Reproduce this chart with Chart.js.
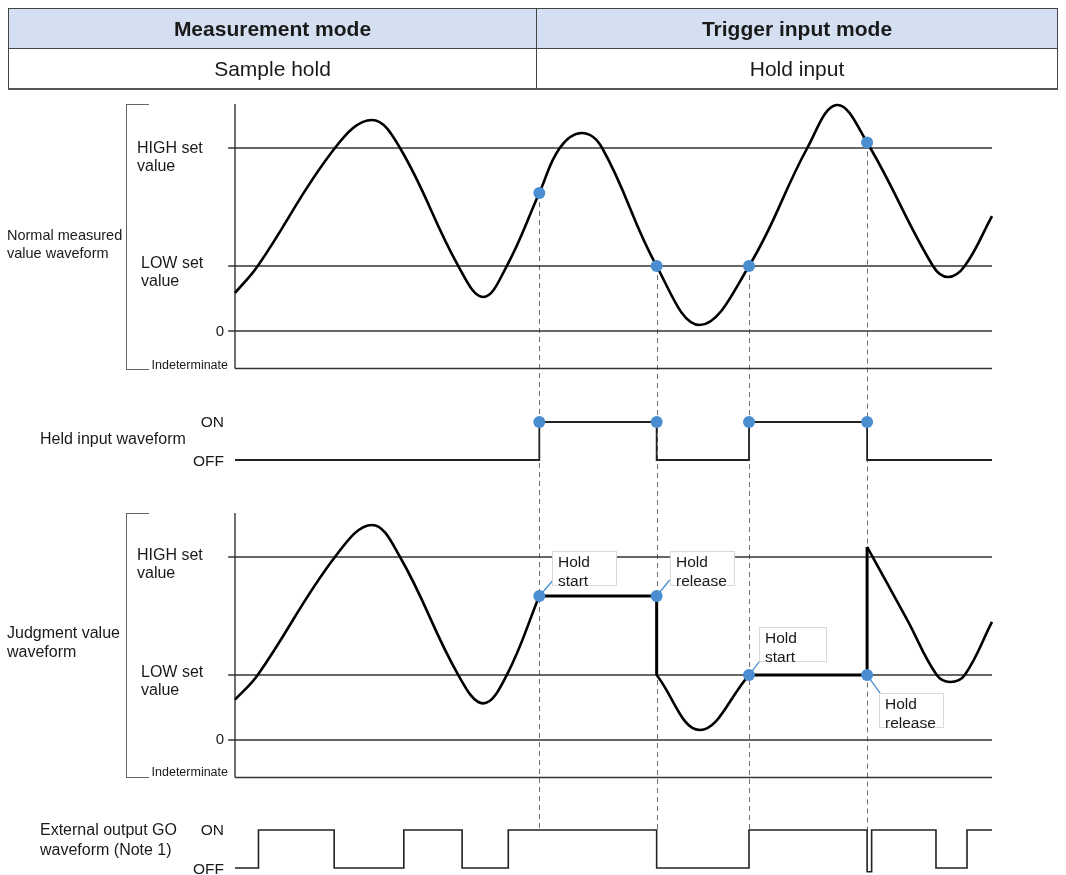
<!DOCTYPE html>
<html>
<head>
<meta charset="utf-8">
<title>Sample hold / Hold input timing</title>
<script src="https://cdn.jsdelivr.net/npm/chart.js@4.4.1/dist/chart.umd.min.js"></script>
<style>
  html, body { margin: 0; padding: 0; background: #fff; }
  body {
    width: 1066px; height: 875px; position: relative; overflow: hidden;
    font-family: "Liberation Sans", Arial, sans-serif; color: #1a1a1a;
  }
  #timing { position: absolute; left: 0; top: 0; }
  table.mode {
    position: absolute; left: 8px; top: 8px; width: 1050px;
    border-collapse: collapse; font-size: 21px; table-layout: fixed;
  }
  table.mode th, table.mode td {
    border: 1px solid #444; height: 39px; padding: 0; text-align: center;
  }
  table.mode th { background: #d4e0f1; font-weight: bold; }
  table.mode td { border-bottom: 2px solid #555; }
  table.mode col.c1 { width: 528px; }
  .lbl { position: absolute; white-space: nowrap; font-size: 16px; line-height: 18px; }
  .r { text-align: right; }
  .small { font-size: 12.5px; line-height: 15px; }
  .bracket {
    position: absolute; left: 126px; width: 22px;
    border: 1.2px solid #666; border-right: none;
  }
  .note {
    position: absolute; box-sizing: border-box; background: #fff;
    border: 1px solid #d9d9d9; padding: 0 0 0 5px;
    font-size: 15.5px; line-height: 19px; height: 35px;
  }
</style>
</head>
<body>
<canvas id="timing" width="1066" height="875"></canvas>

<table class="mode">
  <colgroup><col class="c1"><col></colgroup>
  <tr><th>Measurement mode</th><th>Trigger input mode</th></tr>
  <tr><td>Sample hold</td><td>Hold input</td></tr>
</table>

<div class="bracket" style="top:104px;height:264px"></div>
<div class="bracket" style="top:513px;height:263px"></div>

<div class="lbl" style="left:7px;top:226px;font-size:14.5px">Normal measured<br>value waveform</div>
<div class="lbl" style="left:137px;top:139px">HIGH set<br>value</div>
<div class="lbl" style="left:141px;top:254px">LOW set<br>value</div>
<div class="lbl r" style="right:842px;top:322px;font-size:15px">0</div>
<div class="lbl r small" style="right:838px;top:358px">Indeterminate</div>

<div class="lbl" style="left:40px;top:430px">Held input waveform</div>
<div class="lbl r" style="right:842px;top:413px;font-size:15.5px">ON</div>
<div class="lbl r" style="right:842px;top:452px;font-size:15.5px">OFF</div>

<div class="lbl" style="left:7px;top:623px;line-height:19px">Judgment value<br>waveform</div>
<div class="lbl" style="left:137px;top:546px">HIGH set<br>value</div>
<div class="lbl" style="left:141px;top:663px">LOW set<br>value</div>
<div class="lbl r" style="right:842px;top:730px;font-size:15px">0</div>
<div class="lbl r small" style="right:838px;top:765px">Indeterminate</div>

<div class="lbl" style="left:40px;top:820px;line-height:20px">External output GO<br>waveform (Note 1)</div>
<div class="lbl r" style="right:842px;top:821px;font-size:15.5px">ON</div>
<div class="lbl r" style="right:842px;top:860px;font-size:15.5px">OFF</div>

<script>
const W = 1066, H = 875;
const PLOT_LEFT = 235, PLOT_RIGHT = 992;

// value levels (HIGH set value = 100)
const HIGH = 100, LOW = 35.5, ZERO = 0, INDET = -20.5, AXIS_TOP = 124;

// normal measured value waveform
const measTime  = [0, 3.0, 13.2, 18.1, 21.8, 29.5, 32.8, 35.9, 40.2, 42.9, 45.8, 48.5, 55.7, 61.4, 67.9, 75.6, 79.5, 83.5, 92.2, 94.2, 96.4, 100];
const measValue = [20.8, 35.5, 100, 115.3, 100, 35.5, 18.6, 35.5, 75.4, 100, 108.2, 100, 35.5, 3.3, 35.5, 100, 123.5, 103, 35.5, 29.5, 35.5, 62.8];

// judgment value waveform (null = held, drawn separately)
const judgeTime  = [0, 3.0, 13.2, 18.1, 21.8, 29.5, 32.8, 35.9, 40.2, 48, 55.7, 61.4, 67.9, 75, 83.5, 88.8, 92.7, 94.5, 96.4, 100];
const judgeValue = [22, 35.5, 100, 117.5, 100, 35.5, 20, 35.5, 78.7, null, 35.5, 5.5, 35.5, null, 105.5, 65.6, 35.5, 31.7, 35.5, 64.5];

// hold periods
const holdStart = [40.2, 67.9];
const holdEnd = [55.7, 83.5];
const holdLevel = [78.7, 35.5];
const releaseValue = [35.5, 105.5];

// held input (0 = OFF, 1 = ON)
const heldTime  = [0, 40.2, 55.7, 67.9, 83.5, 100];
const heldState = [0, 1, 0, 1, 0, 0];

// external output GO
const goTime  = [0, 3.1, 13.1, 22.3, 30.0, 36.1, 55.7, 67.9, 83.5, 84.1, 92.6, 96.7, 100];
const goState = [0, 1, 0, 1, 0, 1, 0, 1, -0.1, 1, 0, 1, 1];

// hold input edges
const eventTime = [40.2, 55.7, 67.9, 83.5];
const eventMeasured = [75.4, 35.5, 35.5, 103];
const eventJudged = [78.7, 78.7, 35.5, 35.5];
const eventLabel = ["Hold<br>start", "Hold<br>release", "Hold<br>start", "Hold<br>release"];

// callout placement relative to the judged point (px)
const noteBox = [[13, -45, 65], [13, -45, 65], [10, -48, 68], [12, 18, 65]];
const noteLead = [[14, -16], [13, -16], [13, -17], [13, 18]];

const BLUE = "#4a8dd0";

// each panel gets its own y axis spanning the full canvas
function bandRange(v0, px0, v1, px1) {
  const k = (px0 - px1) / (v1 - v0);
  return { min: v0 - (H - px0) / k, max: v1 + px1 / k };
}
const r1 = bandRange(ZERO, 331, HIGH, 148);
const r2 = bandRange(0, 460, 1, 422);
const r3 = bandRange(ZERO, 740, HIGH, 557);
const r4 = bandRange(0, 868, 1, 830);

const pts = (xs, ys) => xs.map((x, i) => ({ x: x, y: ys[i] }));

function line(data, axis, extra) {
  return Object.assign({
    type: "line", data: data, yAxisID: axis,
    borderColor: "#000", borderWidth: 2.6, pointRadius: 0,
    tension: 0, fill: false, clip: false, order: 2
  }, extra || {});
}
function refLine(v, axis, from) {
  return line([{ x: from, y: v }, { x: 100, y: v }], axis,
    { borderColor: "#333", borderWidth: 1.4, order: 3 });
}
function axisLine(axis) {
  return line([{ x: 0, y: INDET }, { x: 0, y: AXIS_TOP }], axis,
    { borderColor: "#333", borderWidth: 1.4, order: 3 });
}
function markers(xs, ys, axis) {
  return {
    type: "scatter", data: pts(xs, ys), yAxisID: axis,
    pointRadius: 6, pointBackgroundColor: BLUE, pointBorderWidth: 0,
    showLine: false, clip: false, order: 0
  };
}

const datasets = [];
["y1", "y3"].forEach((ax) => {
  datasets.push(refLine(HIGH, ax, -0.9));
  datasets.push(refLine(LOW, ax, -0.9));
  datasets.push(refLine(ZERO, ax, -0.9));
  datasets.push(refLine(INDET, ax, 0));
  datasets.push(axisLine(ax));
});

datasets.push(line(pts(measTime, measValue), "y1", { tension: 0.4 }));
datasets.push(line(pts(judgeTime, judgeValue), "y3", { tension: 0.4, spanGaps: false }));
holdStart.forEach((t, i) => {
  datasets.push(line([
    { x: t, y: holdLevel[i] },
    { x: holdEnd[i], y: holdLevel[i] },
    { x: holdEnd[i], y: releaseValue[i] }
  ], "y3", { borderWidth: 3 }));
});
datasets.push(line(pts(heldTime, heldState), "y2", { stepped: true, borderColor: "#222", borderWidth: 1.8 }));
datasets.push(line(pts(goTime, goState), "y4", { stepped: true, borderColor: "#222", borderWidth: 1.6 }));

datasets.push(markers(eventTime, eventMeasured, "y1"));
datasets.push(markers(eventTime, eventTime.map(() => 1), "y2"));
datasets.push(markers(eventTime, eventJudged, "y3"));

const guides = {
  id: "guides",
  beforeDatasetsDraw(chart) {
    const { ctx } = chart;
    const { x, y1, y3, y4 } = chart.scales;
    ctx.save();
    ctx.strokeStyle = "#707070";
    ctx.lineWidth = 1;
    ctx.setLineDash([5, 4]);
    eventTime.forEach((t, i) => {
      const px = Math.round(x.getPixelForValue(t)) + 0.5;
      ctx.beginPath();
      ctx.moveTo(px, y1.getPixelForValue(eventMeasured[i]));
      ctx.lineTo(px, y4.getPixelForValue(1));
      ctx.stroke();
    });
    ctx.setLineDash([]);
    ctx.strokeStyle = BLUE;
    ctx.lineWidth = 1.3;
    eventTime.forEach((t, i) => {
      const px = x.getPixelForValue(t), py = y3.getPixelForValue(eventJudged[i]);
      ctx.beginPath();
      ctx.moveTo(px, py);
      ctx.lineTo(px + noteLead[i][0], py + noteLead[i][1]);
      ctx.stroke();
    });
    ctx.restore();
  }
};

const yAxis = (r) => ({ type: "linear", display: false, min: r.min, max: r.max });

const chart = new Chart(document.getElementById("timing"), {
  type: "line",
  data: { datasets: datasets },
  options: {
    responsive: false,
    animation: false,
    events: [],
    layout: { autoPadding: false, padding: { left: PLOT_LEFT, right: W - PLOT_RIGHT, top: 0, bottom: 0 } },
    plugins: { legend: { display: false }, tooltip: { enabled: false }, title: { display: false } },
    scales: {
      x: { type: "linear", display: false, min: 0, max: 100 },
      y1: yAxis(r1),
      y2: yAxis(r2),
      y3: yAxis(r3),
      y4: yAxis(r4)
    }
  },
  plugins: [guides]
});

// callout boxes for hold start / release
eventTime.forEach((t, i) => {
  const px = chart.scales.x.getPixelForValue(t);
  const py = chart.scales.y3.getPixelForValue(eventJudged[i]);
  const box = document.createElement("div");
  box.className = "note";
  box.innerHTML = eventLabel[i];
  box.style.left = Math.round(px + noteBox[i][0]) + "px";
  box.style.top = Math.round(py + noteBox[i][1]) + "px";
  box.style.width = noteBox[i][2] + "px";
  document.body.appendChild(box);
});
</script>
</body>
</html>
